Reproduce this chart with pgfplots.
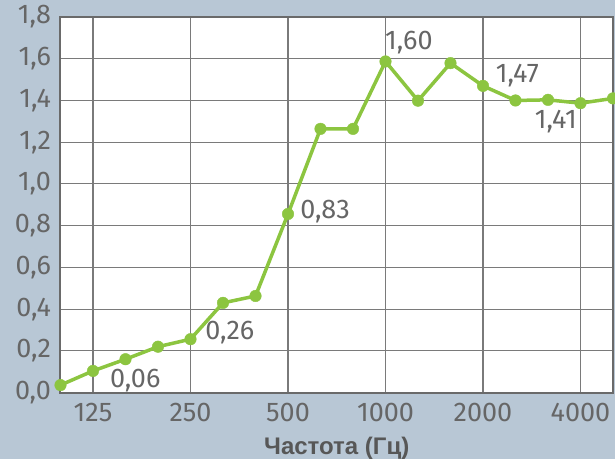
\documentclass[border=0pt]{standalone}
\usepackage{fontspec}
\setmainfont{Fira Sans}
\newfontfamily\labfont{Liberation Sans}
\usepackage{pgfplots}
\pgfplotsset{compat=1.18}
\definecolor{bgc}{HTML}{B8C7D5}
\definecolor{grn}{HTML}{8CC540}
\definecolor{txt}{HTML}{666666}
\definecolor{frm}{HTML}{6A6A6A}
\definecolor{grd}{HTML}{7A7A7A}
\begin{document}
\begin{tikzpicture}[x=1pt,y=1pt]
\fill[bgc] (-60.5,-66.4) rectangle (554.5,392.6);
\begin{axis}[
  scale only axis, width=552.5pt, height=375.6pt,
  at={(0,0)}, anchor=south west,
  xmin=0, xmax=17, ymin=0, ymax=1.8,
  xtick={1,4,7,10,13,16},
  xticklabels={125,250,500,1000,2000,4000},
  ytick={0,0.2,...,1.8},
  major tick length=0pt,
  grid=major,
  major grid style={grd, line width=1.1pt},
  axis line style={frm, line width=2pt},
  axis background/.style={fill=white},
  /pgf/number format/.cd, use comma, fixed, fixed zerofill, precision=1, assume math mode=true,
  /pgfplots/.cd,
  tick label style={txt, font=\fontsize{27}{30}\selectfont},
  yticklabel style={xshift=-6pt},
  xticklabel style={yshift=-7pt},
  xlabel={Частота (Гц)},
  xlabel style={font=\labfont\fontsize{24}{26}\selectfont\bfseries, text=txt!85!black, yshift=-8pt},
]
\addplot[grn, line width=3.5pt, mark=*, mark size=5.8pt, mark options={solid, fill=grn, draw=grn, line width=0.4pt}]
coordinates {
(0,0.036) (1,0.104) (2,0.16) (3,0.22) (4,0.256) (5,0.43) (6,0.463) (7,0.856)
(8,1.264) (9,1.264) (10,1.587) (11,1.399) (12,1.579) (13,1.47) (14,1.40)
(15,1.403) (16,1.387) (17,1.41)
};
\begin{scope}[every node/.style={text=txt, font=\fontsize{27}{30}\selectfont, inner sep=0pt}]
\node at (axis cs:2.30,0.06) {0,06};
\node at (axis cs:5.21,0.286) {0,26};
\node at (axis cs:8.14,0.866) {0,83};
\node at (axis cs:10.72,1.676) {1,60};
\node at (axis cs:14.06,1.518) {1,47};
\node at (axis cs:15.24,1.297) {1,41};
\end{scope}
\end{axis}
\pgfresetboundingbox
\path[use as bounding box] (-60.5,-66.4) rectangle (554.5,392.6);
\end{tikzpicture}
\end{document}
